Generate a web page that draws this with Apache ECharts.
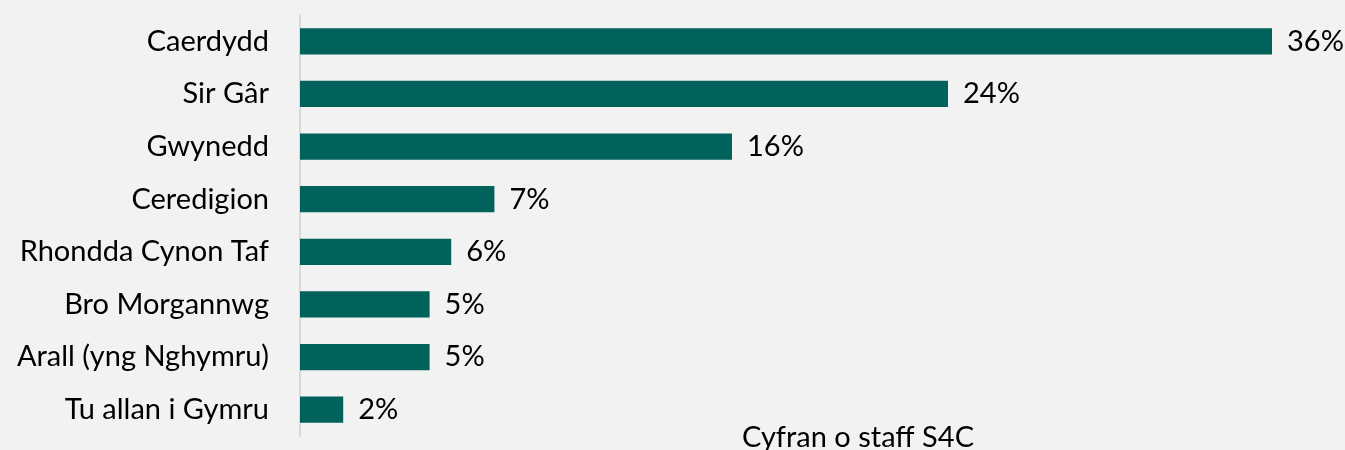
<!DOCTYPE html>
<html>
<head>
<meta charset="utf-8">
<script src="https://cdn.jsdelivr.net/npm/echarts@6/dist/echarts.min.js"></script>
<style>
  html, body { margin: 0; padding: 0; background: #f2f2f2; }
  #chart { width: 1345px; height: 450px; }
</style>
</head>
<body>
<div id="chart"></div>
<script>
// top to bottom, as in the picture
const categories = ['Caerdydd', 'Sir Gâr', 'Gwynedd', 'Ceredigion', 'Rhondda Cynon Taf', 'Bro Morgannwg', 'Arall (yng Nghymru)', 'Tu allan i Gymru']
const shares = [36, 24, 16, 7.2, 5.6, 4.8, 4.8, 1.6]
const seriesName = 'Cyfran o staff S4C'

const font = 'Lato, "Noto Sans", sans-serif'
const chart = echarts.init(document.getElementById('chart'))
chart.setOption({
  backgroundColor: '#f2f2f2',
  animation: false,
  textStyle: { fontFamily: font },
  title: {
    text: seriesName,
    left: 742,
    top: 423,
    padding: 0,
    textStyle: { fontFamily: font, fontSize: 29, fontWeight: 'normal', color: '#000' }
  },
  grid: { left: 300, right: 73, top: 15, bottom: 14 },
  xAxis: {
    type: 'value',
    min: 0,
    max: 36,
    show: false
  },
  yAxis: {
    type: 'category',
    inverse: true,
    data: categories,
    axisLine: { lineStyle: { color: '#d9d9d9', width: 2 } },
    axisTick: { show: false },
    axisLabel: { color: '#000', fontSize: 29, margin: 31, fontFamily: font }
  },
  series: [{
    name: seriesName,
    type: 'bar',
    data: shares,
    barCategoryGap: '50%',
    itemStyle: { color: '#00625a' },
    label: {
      show: true,
      position: 'right',
      distance: 15,
      color: '#000',
      fontSize: 29,
      fontFamily: font,
      formatter: p => Math.round(p.value) + '%'
    }
  }]
})
</script>
</body>
</html>
